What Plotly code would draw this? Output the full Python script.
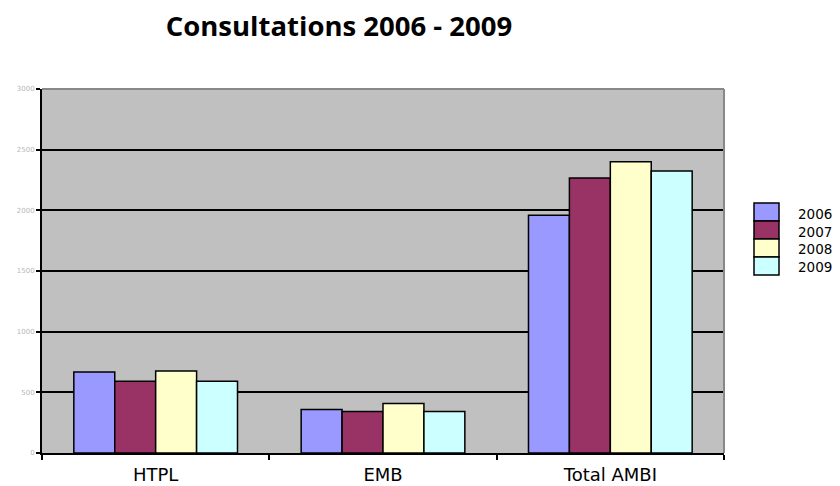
import plotly.graph_objects as go

categories = ["HTPL", "EMB", "Total AMBI"]
years = ["2006", "2007", "2008", "2009"]
values = {
    "2006": [667, 358, 1960],
    "2007": [592, 342, 2267],
    "2008": [675, 408, 2400],
    "2009": [592, 342, 2325],
}
colors = {"2006": "#9999ff", "2007": "#993366", "2008": "#ffffcc", "2009": "#ccffff"}
y_ticks = [0, 500, 1000, 1500, 2000, 2500, 3000]

W, H = 840, 486
ML, MR, MT, MB = 42, 116, 89, 33
PW, PH = W - ML - MR, H - MT - MB


def px_x(px):
    return (px - ML) / PW


def px_y(py):
    return (H - MB - py) / PH


fig = go.Figure()
for yr in years:
    fig.add_trace(go.Bar(
        x=categories, y=values[yr], name=yr, showlegend=False,
        marker=dict(color=colors[yr], line=dict(color="#000000", width=1.5)),
    ))

shapes = [
    # plot-area frame (top and right), grey like the original
    dict(type="line", xref="paper", yref="paper", x0=0, x1=1, y0=1, y1=1,
         line=dict(color="#888888", width=2), layer="above"),
    dict(type="line", xref="paper", yref="paper", x0=1, x1=1, y0=0, y1=1,
         line=dict(color="#888888", width=2), layer="above"),
]
# compact legend built from the series list
box_top, box_h = 203, 18
for i, yr in enumerate(years):
    shapes.append(dict(
        type="rect", xref="paper", yref="paper",
        x0=px_x(754), x1=px_x(779),
        y0=px_y(box_top + i * box_h), y1=px_y(box_top + (i + 1) * box_h),
        fillcolor=colors[yr], line=dict(color="#000000", width=1.5), layer="above",
    ))
annotations = [dict(
    xref="paper", yref="paper", x=px_x(797), y=px_y(205),
    xanchor="left", yanchor="top", align="left", text="<br>".join(years),
    showarrow=False, borderpad=0,
    font=dict(family="DejaVu Sans", size=13.5, color="#000000"),
)]

fig.update_layout(
    width=W, height=H,
    barmode="group", bargap=0.28, bargroupgap=0,
    plot_bgcolor="#c0c0c0", paper_bgcolor="#ffffff",
    margin=dict(l=ML, r=MR, t=MT, b=MB, autoexpand=False),
    title=dict(text="<b>Consultations 2006 - 2009</b>", x=339 / W, xanchor="center",
               y=1 - 26 / H, yanchor="middle",
               font=dict(family="Open Sans", size=27.5, color="#000000")),
    showlegend=False,
    shapes=shapes,
    annotations=annotations,
)
fig.update_xaxes(
    showline=True, linecolor="#000000", linewidth=2,
    ticks="outside", tickson="boundaries", ticklen=5, tickcolor="#000000", tickwidth=1.5,
    tickfont=dict(family="DejaVu Sans", size=18, color="#000000"),
    ticklabelstandoff=4,
    showgrid=False,
)
fig.update_yaxes(
    range=[0, 3000], tickvals=y_ticks,
    showline=True, linecolor="#000000", linewidth=2,
    ticks="outside", ticklen=4, tickcolor="#000000", tickwidth=1.5,
    showgrid=True, gridcolor="#000000", gridwidth=1.5,
    tickfont=dict(family="DejaVu Sans", size=7, color="#b8b8b8"),
    zeroline=False,
)

fig.write_html("out.html")
